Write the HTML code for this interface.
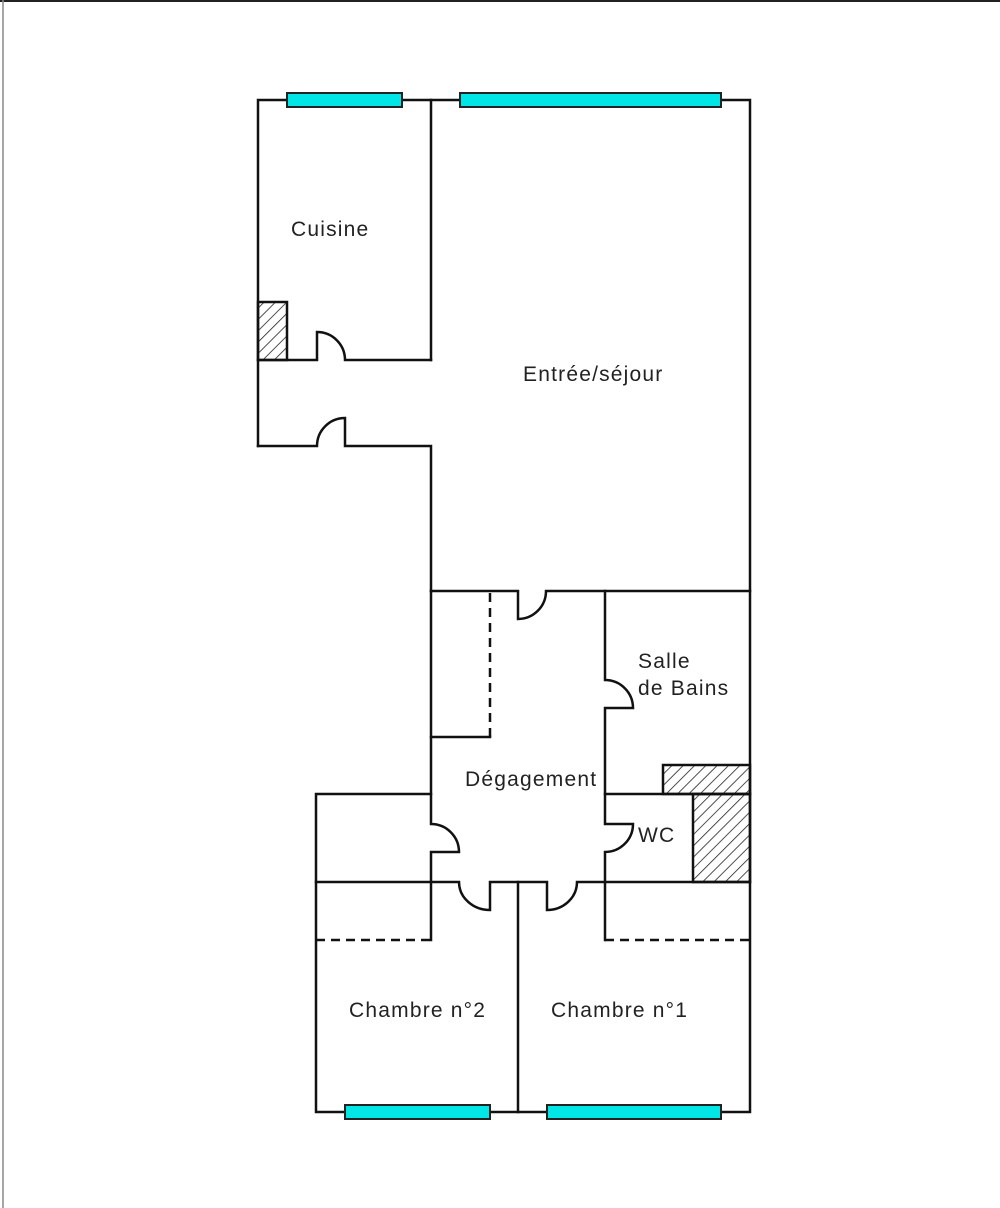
<!DOCTYPE html>
<html><head><meta charset="utf-8"><style>
html,body{margin:0;padding:0;background:#fff;}
svg{display:block;}
text{font-family:"Liberation Sans",sans-serif;font-size:21px;letter-spacing:1.2px;fill:#222;}
</style></head><body>
<svg width="1000" height="1208" viewBox="0 0 1000 1208" xmlns="http://www.w3.org/2000/svg">
<defs>
<pattern id="h" patternUnits="userSpaceOnUse" width="8" height="8" patternTransform="rotate(45)">
<line x1="0" y1="0" x2="0" y2="8" stroke="#222" stroke-width="1.6"/>
</pattern>
</defs>
<line x1="0" y1="1" x2="1000" y2="1" stroke="#222" stroke-width="2"/>
<line x1="3" y1="0" x2="3" y2="1208" stroke="#888" stroke-width="1.5"/>
<g fill="none" stroke="#111" stroke-width="2.5" stroke-linecap="square">
<path d="M258 446 V100 H750 V1112 H316 V794 H431"/>
<line x1="431" y1="100" x2="431" y2="360"/>
<path d="M258 360 H317 V332 A28 28 0 0 1 345 360 H431"/>
<path d="M258 446 H317 A28 28 0 0 1 345 418 V446 H431 V591"/>
<path d="M431 591 H518 V619 A28 28 0 0 0 546 591 H750"/>
<line x1="431" y1="737" x2="490" y2="737"/>
<path d="M431 591 V824 A28 28 0 0 1 459 852 H431 V940"/>
<path d="M605 591 V680 A28 28 0 0 1 633 708 H605 V824 H633 A28 28 0 0 1 605 852 V940"/>
<line x1="605" y1="794" x2="750" y2="794"/>
<path d="M316 882 H459 A31 28 0 0 0 490 910 V882 H547 V910 A30 28 0 0 0 577 882 H750"/>
<line x1="518" y1="882" x2="518" y2="1112"/>
</g>
<g fill="none" stroke="#111" stroke-width="2.5" stroke-dasharray="9 6">
<line x1="490" y1="593" x2="490" y2="737"/>
<line x1="316" y1="940" x2="431" y2="940"/>
<line x1="605" y1="940" x2="750" y2="940"/>
</g>
<g stroke="#111" stroke-width="2.5" fill="url(#h)">
<rect x="258" y="302" width="29" height="58"/>
<rect x="663" y="765" width="87" height="29"/>
<rect x="693" y="794" width="57" height="88"/>
</g>
<g fill="#00e6e6" stroke="#222" stroke-width="2">
<rect x="287" y="93" width="115" height="14"/>
<rect x="460" y="93" width="261" height="14"/>
<rect x="345" y="1105" width="145" height="14"/>
<rect x="547" y="1105" width="174" height="14"/>
</g>
<text x="291" y="236">Cuisine</text>
<text x="523" y="381">Entrée/séjour</text>
<text x="638" y="668">Salle</text>
<text x="638" y="695">de Bains</text>
<text x="465" y="786">Dégagement</text>
<text x="638" y="842">WC</text>
<text x="349" y="1017">Chambre n°2</text>
<text x="551" y="1017">Chambre n°1</text>
</svg>
</body></html>
